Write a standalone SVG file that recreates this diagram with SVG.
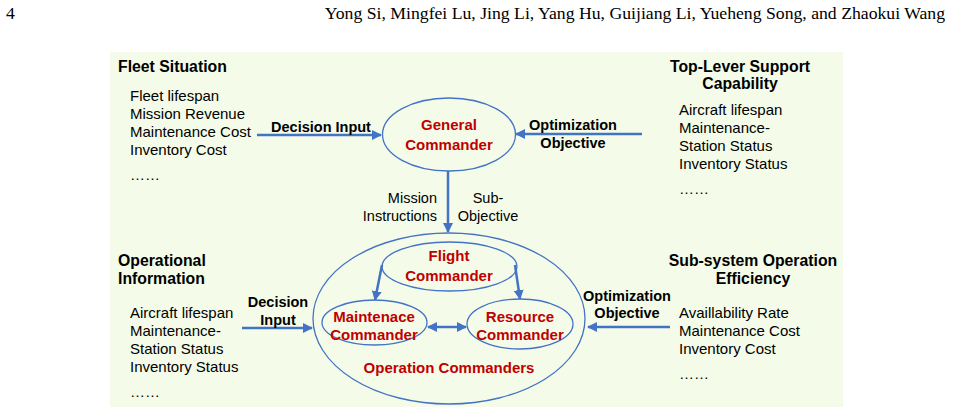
<svg xmlns="http://www.w3.org/2000/svg" width="953" height="413" viewBox="0 0 953 413">
<style>
.hdr{font-family:"Liberation Serif",serif;font-size:17.7px;fill:#000}
.ttl{font-family:"Liberation Sans",Arial,sans-serif;font-size:15.8px;font-weight:bold;fill:#000}
.body{font-family:"Liberation Sans",Arial,sans-serif;font-size:15px;fill:#000}
.lbl{font-family:"Liberation Sans",Arial,sans-serif;font-size:14.5px;font-weight:bold;fill:#000}
.lblr{font-family:"Liberation Sans",Arial,sans-serif;font-size:14.5px;fill:#000}
.red{font-family:"Liberation Sans",Arial,sans-serif;font-size:15px;font-weight:bold;fill:#C00000}
.ell{fill:none;stroke:#4472C4;stroke-width:1.3}
.conn{fill:none;stroke:#4472C4;stroke-width:2.5}
</style>
<defs>
<marker id="ah" viewBox="0 0 10 10" refX="9" refY="5" markerWidth="4" markerHeight="4" orient="auto-start-reverse" markerUnits="strokeWidth">
<path d="M0,0 L10,5 L0,10 z" fill="#4472C4"/>
</marker>
</defs>
<rect x="0" y="0" width="953" height="413" fill="#fff"/>
<text class="hdr" x="6" y="19">4</text>
<text class="hdr" x="945" y="19" text-anchor="end">Yong Si, Mingfei Lu, Jing Li, Yang Hu, Guijiang Li, Yueheng Song, and Zhaokui Wang</text>
<rect x="110" y="52" width="733" height="355" fill="#F4FCE9"/>

<g id="fleet-situation">
<text class="ttl" x="118" y="72">Fleet Situation</text>
<text class="body" x="130" y="101">Fleet lifespan</text>
<text class="body" x="130" y="119">Mission Revenue</text>
<text class="body" x="130" y="137">Maintenance Cost</text>
<text class="body" x="130" y="155">Inventory Cost</text>
<text class="body" x="130" y="180">……</text>
</g>

<g id="top-level-support">
<text class="ttl" x="740" y="72" text-anchor="middle">Top-Lever Support</text>
<text class="ttl" x="740" y="89" text-anchor="middle">Capability</text>
<text class="body" x="679" y="115">Aircraft lifespan</text>
<text class="body" x="679" y="133">Maintenance-</text>
<text class="body" x="679" y="151">Station Status</text>
<text class="body" x="679" y="169">Inventory Status</text>
<text class="body" x="679" y="194">……</text>
</g>

<g id="operational-information">
<text class="ttl" x="118" y="266">Operational</text>
<text class="ttl" x="118" y="284">Information</text>
<text class="body" x="130" y="318">Aircraft lifespan</text>
<text class="body" x="130" y="336">Maintenance-</text>
<text class="body" x="130" y="354">Station Status</text>
<text class="body" x="130" y="372">Inventory Status</text>
<text class="body" x="130" y="397">……</text>
</g>

<g id="subsystem-efficiency">
<text class="ttl" x="753" y="266" text-anchor="middle">Sub-system Operation</text>
<text class="ttl" x="753" y="284" text-anchor="middle">Efficiency</text>
<text class="body" x="679" y="318">Availlability Rate</text>
<text class="body" x="679" y="336">Maintenance Cost</text>
<text class="body" x="679" y="354">Inventory Cost</text>
<text class="body" x="679" y="379">……</text>
</g>

<g id="general-commander">
<ellipse class="ell" cx="449" cy="134.5" rx="66.5" ry="36.5"/>
<text class="red" x="449" y="130" text-anchor="middle">General</text>
<text class="red" x="449" y="150" text-anchor="middle">Commander</text>
</g>

<g id="operation-commanders">
<ellipse class="ell" cx="449" cy="318.5" rx="136" ry="85.5"/>
<text class="red" x="449" y="373" text-anchor="middle">Operation Commanders</text>
</g>

<g id="flight-commander">
<ellipse class="ell" cx="449.5" cy="266.5" rx="67.5" ry="24.5"/>
<text class="red" x="449" y="261" text-anchor="middle">Flight</text>
<text class="red" x="449" y="281" text-anchor="middle">Commander</text>
</g>

<g id="maintenace-commander">
<ellipse class="ell" cx="374.5" cy="322.5" rx="52.5" ry="22.5"/>
<text class="red" x="374" y="322" text-anchor="middle">Maintenace</text>
<text class="red" x="374" y="340" text-anchor="middle">Commander</text>
</g>

<g id="resource-commander">
<ellipse class="ell" cx="520" cy="324" rx="53" ry="25"/>
<text class="red" x="520" y="322" text-anchor="middle">Resource</text>
<text class="red" x="520" y="340" text-anchor="middle">Commander</text>
</g>

<g id="connectors">
<line class="conn" x1="257" y1="135" x2="381" y2="135" marker-end="url(#ah)"/>
<line class="conn" x1="642" y1="134" x2="516" y2="134" marker-end="url(#ah)"/>
<line class="conn" x1="448" y1="171" x2="448" y2="232" marker-end="url(#ah)"/>
<line class="conn" x1="382" y1="265" x2="375" y2="300" marker-end="url(#ah)"/>
<line class="conn" x1="515" y1="265" x2="520" y2="299" marker-end="url(#ah)"/>
<line class="conn" x1="428" y1="327" x2="466" y2="327" marker-start="url(#ah)" marker-end="url(#ah)"/>
<line class="conn" x1="242" y1="328" x2="312" y2="328" marker-end="url(#ah)"/>
<line class="conn" x1="670" y1="327" x2="588" y2="327" marker-end="url(#ah)"/>
<text class="lbl" x="321" y="132" text-anchor="middle">Decision Input</text>
<text class="lbl" x="573" y="130" text-anchor="middle">Optimization</text>
<text class="lbl" x="573" y="148" text-anchor="middle">Objective</text>
<text class="lblr" x="437" y="203" text-anchor="end">Mission</text>
<text class="lblr" x="437" y="221" text-anchor="end">Instructions</text>
<text class="lblr" x="488" y="203" text-anchor="middle">Sub-</text>
<text class="lblr" x="488" y="221" text-anchor="middle">Objective</text>
<text class="lbl" x="278" y="307" text-anchor="middle">Decision</text>
<text class="lbl" x="278" y="325" text-anchor="middle">Input</text>
<text class="lbl" x="627" y="301" text-anchor="middle">Optimization</text>
<text class="lbl" x="627" y="318" text-anchor="middle">Objective</text>
</g>
</svg>
